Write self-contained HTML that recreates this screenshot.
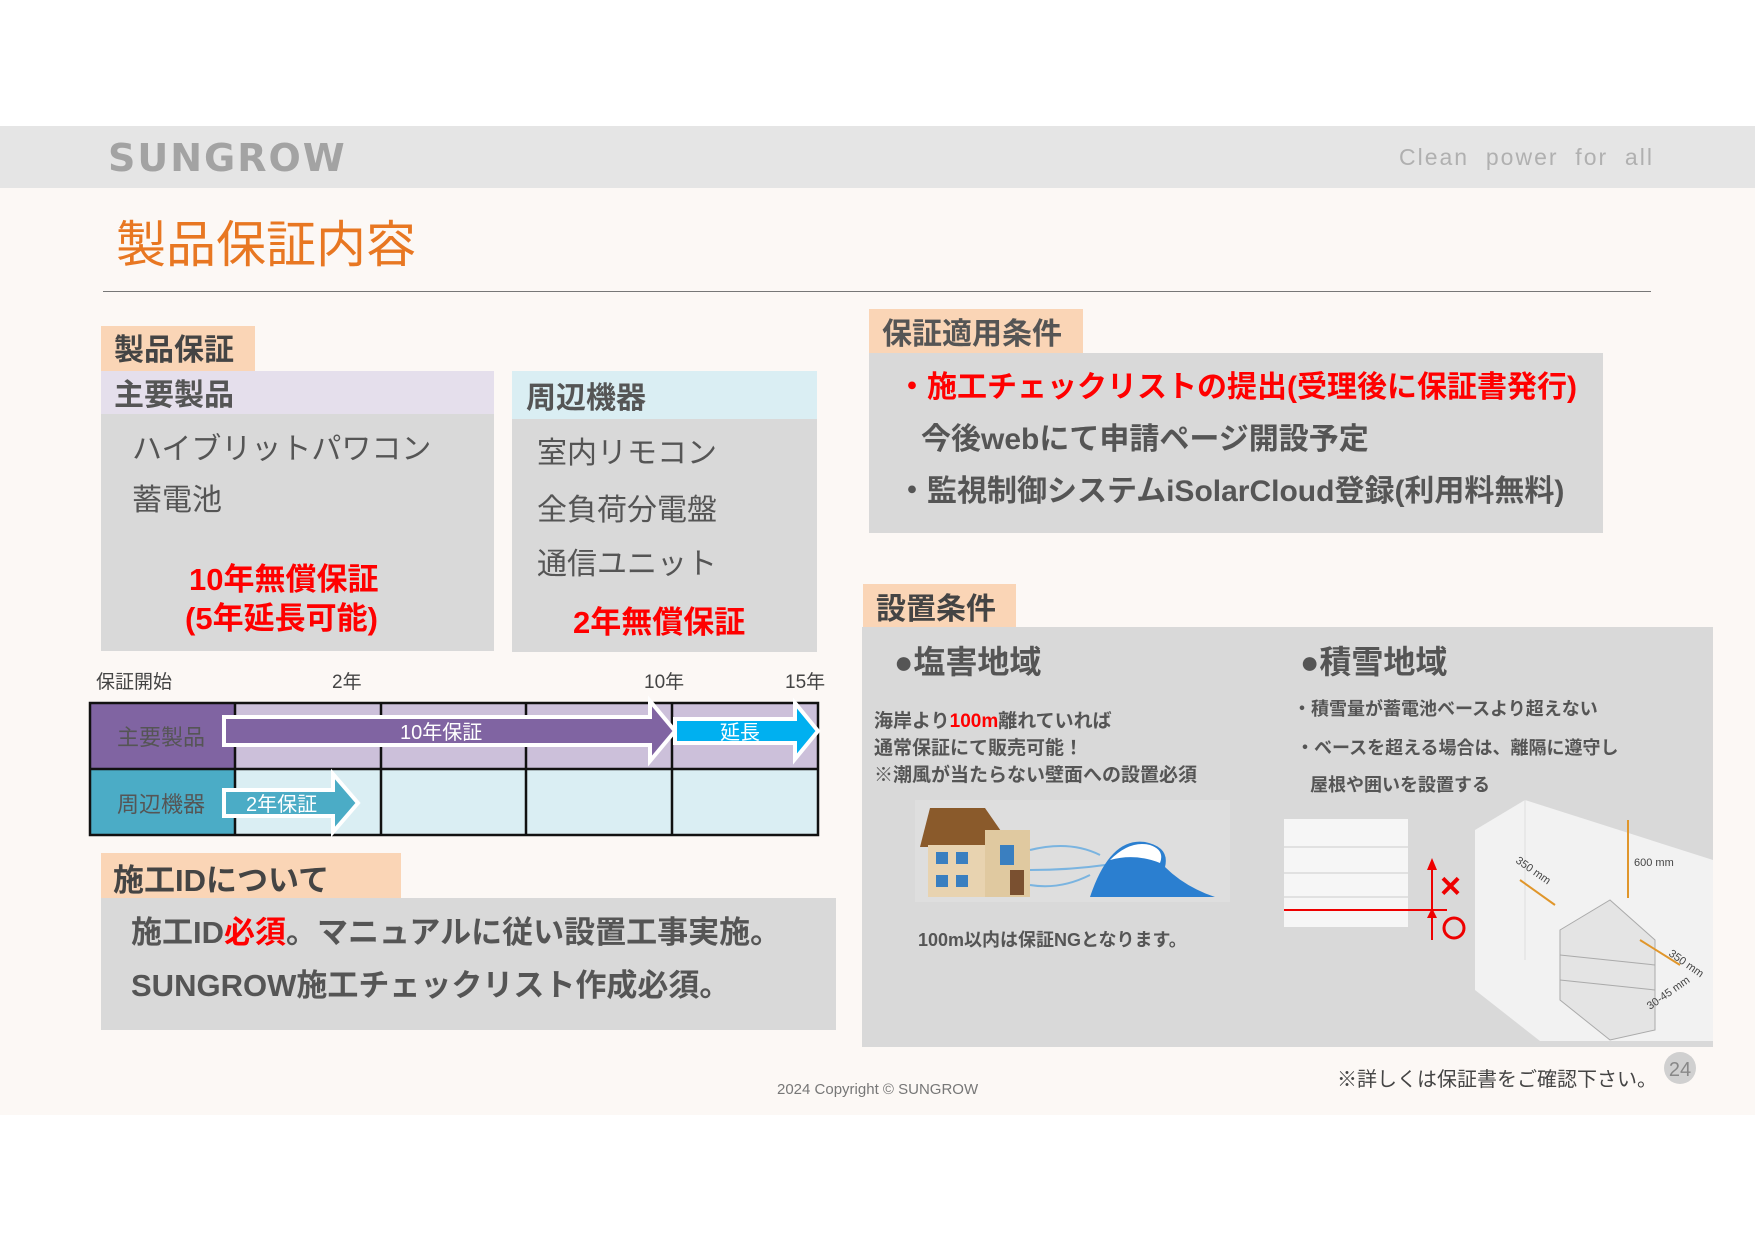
<!DOCTYPE html>
<html><head><meta charset="utf-8">
<style>
*{margin:0;padding:0;box-sizing:border-box}
body{width:1755px;height:1241px;background:#fff;position:relative;overflow:hidden;font-family:"Liberation Sans","Noto Sans CJK JP",sans-serif;}
div{position:absolute}
.t{white-space:nowrap;line-height:1;font-weight:bold;color:#555}
.n{font-weight:normal}
.g{background:#d9d9d9}
.tab{background:#fad5b6}
</style></head><body>
<div style="left:0;top:126px;width:1755px;height:62px;background:#e5e5e5"></div>
<div style="left:0;top:188px;width:1755px;height:927px;background:#fcf8f5"></div>
<div class="t" style="left:108px;top:139px;font-size:38px;color:#a3a3a3;letter-spacing:2px;font-family:'DejaVu Sans',sans-serif;font-weight:bold">SUNGROW</div>
<div class="t n" style="left:1399px;top:146px;font-size:23px;color:#b0b0b0;letter-spacing:2px">Clean&nbsp; power&nbsp; for&nbsp; all</div>
<div class="t n" style="left:116px;top:220px;font-size:50px;color:#e87722">製品保証内容</div>
<div style="left:103px;top:291px;width:1548px;height:1px;background:#777"></div>

<!-- 製品保証 -->
<div class="tab" style="left:101px;top:326px;width:154px;height:46px"></div>
<div class="t" style="left:114px;top:336px;font-size:30px;color:#444">製品保証</div>
<div style="left:101px;top:371px;width:393px;height:43px;background:#e5dfec"></div>
<div class="t" style="left:114px;top:381px;font-size:30px">主要製品</div>
<div class="g" style="left:101px;top:414px;width:393px;height:237px"></div>
<div class="t n" style="left:132px;top:435px;font-size:30px;color:#555">ハイブリットパワコン</div>
<div class="t n" style="left:132px;top:486px;font-size:30px;color:#555">蓄電池</div>
<div class="t" style="left:189px;top:564px;font-size:31px;color:#f00">10年無償保証</div>
<div class="t" style="left:185px;top:603px;font-size:31px;color:#f00">(5年延長可能)</div>

<div style="left:512px;top:371px;width:305px;height:48px;background:#daeef3"></div>
<div class="t" style="left:526px;top:384px;font-size:30px">周辺機器</div>
<div class="g" style="left:512px;top:419px;width:305px;height:233px"></div>
<div class="t n" style="left:537px;top:439px;font-size:30px">室内リモコン</div>
<div class="t n" style="left:537px;top:496px;font-size:30px">全負荷分電盤</div>
<div class="t n" style="left:537px;top:550px;font-size:30px">通信ユニット</div>
<div class="t" style="left:573px;top:607px;font-size:31px;color:#f00">2年無償保証</div>

<!-- timeline -->
<div class="t n" style="left:96px;top:673px;font-size:19px;color:#444">保証開始</div>
<div class="t n" style="left:332px;top:673px;font-size:19px;color:#444">2年</div>
<div class="t n" style="left:644px;top:673px;font-size:19px;color:#444">10年</div>
<div class="t n" style="left:785px;top:673px;font-size:19px;color:#444">15年</div>

<!-- 施工ID -->
<div class="tab" style="left:101px;top:853px;width:300px;height:45px"></div>
<div class="t" style="left:113px;top:865px;font-size:31px;color:#444">施工IDについて</div>
<div class="g" style="left:101px;top:898px;width:735px;height:132px"></div>
<div class="t" style="left:131px;top:917px;font-size:31px">施工ID<span style="color:#f00">必須</span>。マニュアルに従い設置工事実施。</div>
<div class="t" style="left:131px;top:970px;font-size:31px">SUNGROW施工チェックリスト作成必須。</div>

<!-- 保証適用条件 -->
<div class="tab" style="left:869px;top:309px;width:214px;height:45px"></div>
<div class="t" style="left:882px;top:320px;font-size:30px">保証適用条件</div>
<div class="g" style="left:869px;top:353px;width:734px;height:180px"></div>
<div class="t" style="left:897px;top:373px;font-size:30px;color:#f00">・施工チェックリストの提出(受理後に保証書発行)</div>
<div class="t" style="left:921px;top:425px;font-size:30px">今後webにて申請ページ開設予定</div>
<div class="t" style="left:897px;top:477px;font-size:30px">・監視制御システムiSolarCloud登録(利用料無料)</div>

<!-- 設置条件 -->
<div class="tab" style="left:863px;top:584px;width:153px;height:44px"></div>
<div class="t" style="left:876px;top:595px;font-size:30px;color:#444">設置条件</div>
<div class="g" style="left:862px;top:627px;width:851px;height:420px"></div>
<div class="t" style="left:894px;top:646px;font-size:32px">●塩害地域</div>
<div class="t" style="left:1300px;top:646px;font-size:32px">●積雪地域</div>
<div class="t" style="left:874px;top:708px;font-size:19px;line-height:27px">海岸より<span style="color:#f00">100m</span>離れていれば<br>通常保証にて販売可能！<br>※潮風が当たらない壁面への設置必須</div>
<div class="t" style="left:1293px;top:700px;font-size:18px">・積雪量が蓄電池ベースより超えない</div>
<div class="t" style="left:1296px;top:739px;font-size:18px">・ベースを超える場合は、離隔に遵守し</div>
<div class="t" style="left:1310px;top:776px;font-size:18px">屋根や囲いを設置する</div>
<div class="t" style="left:918px;top:931px;font-size:18px">100m以内は保証NGとなります。</div>

<div class="t n" style="left:777px;top:1082px;font-size:15px;color:#777">2024 Copyright © SUNGROW</div>
<div class="t n" style="left:1337px;top:1070px;font-size:20px;color:#444">※詳しくは保証書をご確認下さい。</div>

<svg style="position:absolute;left:0;top:0" width="1755" height="1241">
 <rect x="90" y="703" width="145" height="66" fill="#8064a2"/>
 <rect x="235" y="703" width="583" height="66" fill="#ccc0da"/>
 <rect x="90" y="769" width="145" height="66" fill="#4bacc6"/>
 <rect x="235" y="769" width="583" height="66" fill="#daeef3"/>
 <g stroke="#111" stroke-width="2.5" fill="none">
  <rect x="90" y="703" width="728" height="132"/>
  <line x1="90" y1="769" x2="818" y2="769"/>
  <line x1="235" y1="703" x2="235" y2="835"/>
  <line x1="381" y1="703" x2="381" y2="835"/>
  <line x1="526" y1="703" x2="526" y2="835"/>
  <line x1="672" y1="703" x2="672" y2="835"/>
 </g>
 <polygon points="224,717 650,717 650,701 675,731 650,761 650,745 224,745" fill="#8064a2" stroke="#fff" stroke-width="4"/>
 <polygon points="675,719 795,719 795,703 818,731 795,759 795,743 675,743" fill="#00b0f0" stroke="#fff" stroke-width="4"/>
 <polygon points="224,790 333,790 333,774 358,803 333,832 333,816 224,816" fill="#4bacc6" stroke="#fff" stroke-width="4"/>
 <g font-family="Liberation Sans, Noto Sans CJK JP, sans-serif">
 <text x="117" y="745" font-size="22" fill="#555">主要製品</text>
 <text x="117" y="812" font-size="22" fill="#555">周辺機器</text>
 <text x="400" y="739" font-size="20" fill="#fff">10年保証</text>
 <text x="720" y="739" font-size="20" fill="#fff">延長</text>
 <text x="246" y="811" font-size="20" fill="#fff">2年保証</text>
 </g>
 <!-- salt image -->
 <rect x="915" y="800" width="315" height="102" fill="#dedede"/>
 <polygon points="930,808 985,808 1012,847 920,847" fill="#8a5a2b"/>
 <rect x="928" y="845" width="70" height="52" fill="#e8d3b0"/>
 <rect x="985" y="830" width="45" height="67" fill="#e0c9a0"/>
 <rect x="936" y="852" width="12" height="12" fill="#3a7fc0"/><rect x="956" y="852" width="12" height="12" fill="#3a7fc0"/>
 <rect x="936" y="875" width="12" height="12" fill="#3a7fc0"/><rect x="956" y="875" width="12" height="12" fill="#3a7fc0"/>
 <rect x="1000" y="845" width="14" height="20" fill="#3a7fc0"/><rect x="1010" y="870" width="14" height="25" fill="#7a5030"/>
 <path d="M1030 850 q40 -10 70 5 M1030 870 q40 0 75 -5 M1030 885 q30 5 60 -10" stroke="#7ab4e0" stroke-width="2" fill="none"/>
 <path d="M1090 897 q20 -60 55 -55 q25 5 20 25 q20 20 50 30 z" fill="#2b7fd0"/>
 <path d="M1110 860 q20 -20 40 -15 q15 5 10 18 q-25 -10 -50 -3z" fill="#fff"/>
 <!-- battery -->
 <rect x="1284" y="819" width="124" height="108" fill="#f6f6f6"/>
 <line x1="1284" y1="847" x2="1408" y2="847" stroke="#ccc"/>
 <line x1="1284" y1="873" x2="1408" y2="873" stroke="#ccc"/>
 <line x1="1284" y1="897" x2="1408" y2="897" stroke="#ccc"/>
 <line x1="1284" y1="910" x2="1447" y2="910" stroke="#e00" stroke-width="2"/>
 <line x1="1432" y1="862" x2="1432" y2="940" stroke="#e00" stroke-width="2"/>
 <polygon points="1427,870 1432,858 1437,870" fill="#e00"/>
 <polygon points="1427,918 1432,908 1437,918" fill="#e00"/>
 <text x="1440" y="898" font-size="36" fill="#e00" font-family="Liberation Sans" font-weight="bold">×</text>
 <circle cx="1454" cy="928" r="10" fill="none" stroke="#e00" stroke-width="3"/>
 <!-- room -->
 <polygon points="1475,830 1525,800 1713,860 1713,1041 1540,1041 1475,990" fill="#f2f2f2"/>
 <line x1="1525" y1="800" x2="1525" y2="960" stroke="#ddd"/>
 <polygon points="1560,930 1610,900 1655,940 1655,1030 1610,1040 1560,1000" fill="#e4e4e4" stroke="#aaa"/>
 <line x1="1560" y1="955" x2="1655" y2="965" stroke="#aaa"/>
 <line x1="1560" y1="980" x2="1655" y2="990" stroke="#aaa"/>
 <line x1="1628" y1="820" x2="1628" y2="898" stroke="#e0962b" stroke-width="2"/>
 <line x1="1520" y1="880" x2="1555" y2="905" stroke="#e0962b" stroke-width="2"/>
 <line x1="1640" y1="940" x2="1680" y2="965" stroke="#e0962b" stroke-width="2"/>
 <text x="1634" y="866" font-size="11" fill="#444" font-family="Liberation Sans">600 mm</text>
 <text x="1515" y="862" font-size="11" fill="#444" font-family="Liberation Sans" transform="rotate(35 1515 862)">350 mm</text>
 <text x="1668" y="955" font-size="11" fill="#444" font-family="Liberation Sans" transform="rotate(35 1668 955)">350 mm</text>
 <text x="1650" y="1010" font-size="11" fill="#444" font-family="Liberation Sans" transform="rotate(-35 1650 1010)">30-45 mm</text>
 <circle cx="1680" cy="1068" r="16" fill="#d0d0d0"/>
 <text x="1680" y="1076" font-size="20" fill="#888" text-anchor="middle" font-family="Liberation Sans">24</text>
</svg>
</body></html>
